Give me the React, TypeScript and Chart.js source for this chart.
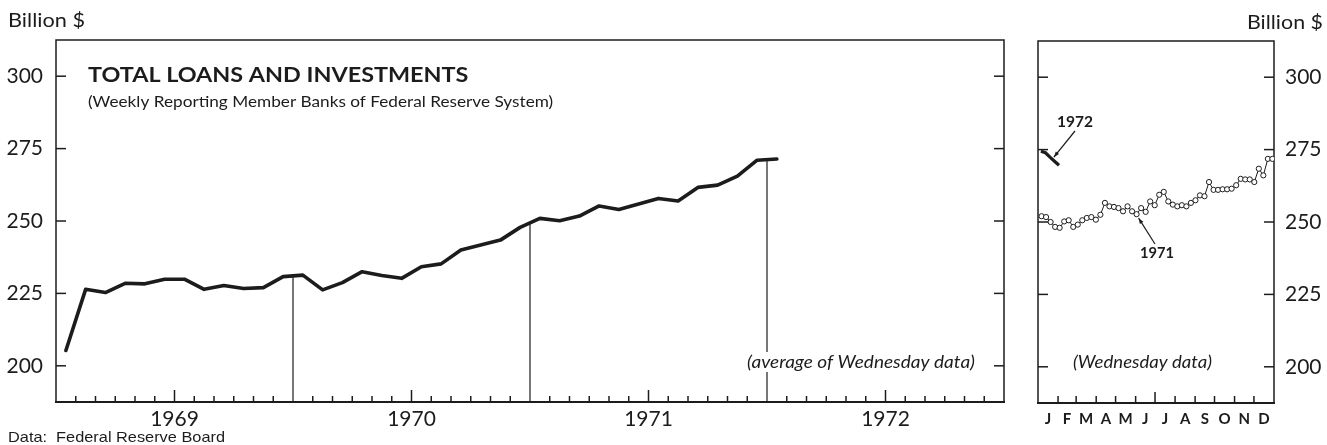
import React, { useEffect, useRef } from "react";
import { Chart, registerables } from "chart.js";

Chart.register(...registerables);

// ---------------- data ----------------
const YEAR_LABELS = ["1969", "1970", "1971", "1972"];
const MONTH_LABELS = ["J", "F", "M", "A", "M", "J", "J", "A", "S", "O", "N", "D"];
const Y_TICKS = [200, 225, 250, 275, 300];
const MONTH_STARTS = [0, 31, 59, 90, 120, 151, 181, 212, 243, 273, 304, 334, 365];

// Monthly averages, Jan 1969 .. Jan 1972 (billion $)
const MONTHLY_TOTALS = [
  205.3, 226.4, 225.3, 228.5, 228.3, 229.9, 229.9, 226.4, 227.7, 226.7, 227.0, 230.8,
  231.3, 226.2, 228.7, 232.5, 231.2, 230.2, 234.2, 235.2, 240.0, 241.7, 243.4, 247.8,
  250.9, 250.1, 251.7, 255.2, 254.0, 255.9, 257.8, 256.9, 261.6, 262.4, 265.5, 271.0,
  271.4,
];

// Wednesday data 1971 (52 weeks, first Wednesday Jan 6)
const WEEKLY_1971 = [
  252.0, 251.7, 250.0, 248.3, 248.0, 250.2, 250.6, 248.3, 249.1, 250.6, 251.4, 251.7,
  250.8, 252.5, 256.6, 255.4, 255.2, 254.8, 253.7, 255.4, 253.7, 252.7, 254.8, 253.5,
  257.1, 255.8, 259.4, 260.4, 257.1, 256.0, 255.4, 255.8, 255.4, 256.6, 257.5, 259.2,
  258.9, 263.8, 261.1, 261.1, 261.3, 261.3, 261.5, 262.7, 264.9, 264.7, 264.7, 263.8,
  268.4, 266.1, 271.8, 271.8,
];
// Wednesday data 1972 (first Wednesday Jan 5)
const WEEKLY_1972 = [274.4, 273.9, 272.4, 271.0, 269.6];

const FIRST_WED_1971 = 5; // day index (0-based) of Jan 6
const FIRST_WED_1972 = 4; // day index of Jan 5

const FONT = "Lato, 'Open Sans', 'DejaVu Sans', sans-serif";
const NARROW = "'Liberation Sans Narrow', 'Liberation Sans', sans-serif";
const INK = "#1c1c1c";

function seg(ctx: CanvasRenderingContext2D, x1: number, y1: number, x2: number, y2: number) {
  ctx.beginPath();
  ctx.moveTo(x1, y1);
  ctx.lineTo(x2, y2);
  ctx.stroke();
}

function arrow(ctx: CanvasRenderingContext2D, x1: number, y1: number, x2: number, y2: number) {
  seg(ctx, x1, y1, x2, y2);
  const ang = Math.atan2(y2 - y1, x2 - x1);
  const L = 6;
  ctx.beginPath();
  ctx.moveTo(x2, y2);
  ctx.lineTo(x2 - L * Math.cos(ang - 0.35), y2 - L * Math.sin(ang - 0.35));
  ctx.lineTo(x2 - L * Math.cos(ang + 0.35), y2 - L * Math.sin(ang + 0.35));
  ctx.closePath();
  ctx.fill();
}

// Draw text with a horizontal scale so that `ref` (default: whole text) spans `width`
function fitText(
  ctx: CanvasRenderingContext2D,
  text: string,
  x: number,
  y: number,
  align: CanvasTextAlign,
  font: string,
  width: number,
  opts: { bg?: boolean; ref?: string } = {}
) {
  ctx.save();
  ctx.font = font;
  ctx.textBaseline = "middle";
  const refW = ctx.measureText(opts.ref || text).width;
  const sx = width / refW;
  const full = ctx.measureText(text).width * sx;
  let left = x;
  if (align === "center") left = x - full / 2;
  if (align === "right") left = x - full;
  if (opts.bg) {
    ctx.fillStyle = "#ffffff";
    ctx.fillRect(left - 3, y - 10, full + 6, 20);
  }
  ctx.fillStyle = INK;
  ctx.translate(left, y);
  ctx.scale(sx, 1);
  ctx.textAlign = "left";
  ctx.fillText(text, 0, 0);
  ctx.restore();
}

function drawFrame(ctx: CanvasRenderingContext2D, a: any) {
  ctx.strokeStyle = INK;
  ctx.lineWidth = 1.5;
  ctx.beginPath();
  ctx.moveTo(a.left, a.bottom);
  ctx.lineTo(a.left, a.top);
  ctx.lineTo(a.right, a.top);
  ctx.lineTo(a.right, a.bottom);
  ctx.stroke();
  ctx.lineWidth = 2;
  seg(ctx, a.left - 1, a.bottom, a.right + 1, a.bottom);
}

const leftDecor = {
  id: "leftDecor",
  beforeDatasetsDraw(chart: any) {
    const { ctx, chartArea: a, scales } = chart;
    const x = scales.x;
    const y = scales.y;
    ctx.save();
    drawFrame(ctx, a);
    ctx.lineWidth = 1.5;
    for (const t of Y_TICKS) {
      const py = y.getPixelForValue(t);
      seg(ctx, a.left, py, a.left + 10, py);
      seg(ctx, a.right - 10, py, a.right, py);
    }
    for (let m = 1; m < 48; m++) {
      const px = x.getPixelForValue(m);
      if (m % 12 === 0) {
        if (m < MONTHLY_TOTALS.length) {
          const v = (MONTHLY_TOTALS[m - 1] + MONTHLY_TOTALS[m]) / 2;
          ctx.lineWidth = 1.2;
          seg(ctx, px, a.bottom, px, y.getPixelForValue(v));
        }
      } else {
        ctx.lineWidth = 1.5;
        const len = m % 12 === 6 ? 12 : 6;
        seg(ctx, px, a.bottom, px, a.bottom - len);
      }
    }
    ctx.restore();
  },
  afterDraw(chart: any) {
    const { ctx } = chart;
    fitText(ctx, "Billion $", 8, 21, "left", `20px ${FONT}`, 77);
    fitText(ctx, "TOTAL LOANS AND INVESTMENTS", 88, 75, "left", `bold 21px ${FONT}`, 300, {
      ref: "TOTAL LOANS AND INVEST",
    });
    fitText(
      ctx,
      "(Weekly Reporting Member Banks of Federal Reserve System)",
      88,
      102,
      "left",
      `16px ${FONT}`,
      310,
      { ref: "(Weekly Reporting Member Banks of Fed" }
    );
    fitText(ctx, "(average of Wednesday data)", 975, 362, "right", `italic 18px ${FONT}`, 228, {
      bg: true,
    });
    fitText(ctx, "Data:  Federal Reserve Board", 8, 438, "left", `15px ${NARROW}`, 217);
  },
};

const rightDecor = {
  id: "rightDecor",
  beforeDatasetsDraw(chart: any) {
    const { ctx, chartArea: a, scales } = chart;
    const x = scales.x;
    const y = scales.y;
    ctx.save();
    drawFrame(ctx, a);
    ctx.lineWidth = 1.5;
    for (const t of Y_TICKS) {
      const py = y.getPixelForValue(t);
      seg(ctx, a.left, py, a.left + 10, py);
      seg(ctx, a.right - 10, py, a.right, py);
    }
    for (let m = 1; m < 12; m++) {
      const px = x.getPixelForValue(MONTH_STARTS[m]);
      const len = m === 6 ? 11 : 7;
      seg(ctx, px, a.bottom, px, a.bottom - len);
    }
    ctx.restore();
  },
  afterDraw(chart: any) {
    const { ctx, scales } = chart;
    const x = scales.x;
    const y = scales.y;
    fitText(ctx, "Billion $", 303, 23, "right", `20px ${FONT}`, 76);
    fitText(ctx, "(Wednesday data)", 122.5, 362, "center", `italic 18px ${FONT}`, 139);
    fitText(ctx, "1972", 55, 122, "center", `bold 15px ${FONT}`, 36);
    fitText(ctx, "1971", 137, 253, "center", `bold 15px ${FONT}`, 34);

    ctx.save();
    ctx.fillStyle = INK;
    ctx.strokeStyle = INK;
    ctx.lineWidth = 1.2;
    // 1972 leader
    const tx72 = x.getPixelForValue(FIRST_WED_1972 + 0.5 + 7 * 2.2);
    const ty72 = y.getPixelForValue((WEEKLY_1972[2] + WEEKLY_1972[3]) / 2);
    arrow(ctx, 55, 131, tx72 + 3, ty72 - 2);
    // 1971 leader
    const tx71 = x.getPixelForValue(FIRST_WED_1971 + 0.5 + 7 * 21);
    const ty71 = y.getPixelForValue(WEEKLY_1971[21]);
    arrow(ctx, 135, 244, tx71 + 2, ty71 + 4);
    ctx.restore();
  },
};

export default function App() {
  const leftRef = useRef<HTMLCanvasElement | null>(null);
  const rightRef = useRef<HTMLCanvasElement | null>(null);

  useEffect(() => {
    const leftCanvas = leftRef.current!;
    const rightCanvas = rightRef.current!;

    const tickFont = { family: FONT, size: 21 };

    const left = new Chart(leftCanvas, {
      type: "line",
      data: {
        datasets: [
          {
            data: MONTHLY_TOTALS.map((v, i) => ({ x: i + 0.5, y: v })),
            borderColor: INK,
            borderWidth: 3.6,
            pointRadius: 0,
            tension: 0,
            borderJoinStyle: "round",
            borderCapStyle: "round",
          },
        ],
      },
      options: {
        animation: false,
        responsive: false,
        devicePixelRatio: 1,
        layout: { padding: { left: 0, top: 40, right: 16, bottom: 0 } },
        plugins: { legend: { display: false }, tooltip: { enabled: false } },
        scales: {
          x: {
            type: "linear",
            min: 0,
            max: 48,
            grid: { display: false, drawTicks: false },
            border: { display: false },
            afterBuildTicks: (s: any) => {
              s.ticks = YEAR_LABELS.map((_, i) => ({ value: i * 12 + 6 }));
            },
            ticks: {
              autoSkip: false,
              maxRotation: 0,
              padding: 5,
              color: INK,
              font: tickFont,
              callback: (v: any) => YEAR_LABELS[Math.round((Number(v) - 6) / 12)],
            },
            afterFit: (s: any) => {
              s.height = 43;
            },
          },
          y: {
            type: "linear",
            min: 187.5,
            max: 312.5,
            grid: { display: false, drawTicks: false },
            border: { display: false },
            afterBuildTicks: (s: any) => {
              s.ticks = Y_TICKS.map((v) => ({ value: v }));
            },
            ticks: {
              padding: 13,
              color: INK,
              font: tickFont,
              callback: (v: any) => String(v),
            },
            afterFit: (s: any) => {
              s.width = 56;
            },
          },
        },
      } as any,
      plugins: [leftDecor],
    });

    const right = new Chart(rightCanvas, {
      type: "line",
      data: {
        datasets: [
          {
            data: WEEKLY_1971.map((v, i) => ({ x: FIRST_WED_1971 + 0.5 + 7 * i, y: v })),
            borderColor: INK,
            borderWidth: 1,
            pointRadius: 2.6,
            pointBorderWidth: 1,
            pointBorderColor: INK,
            pointBackgroundColor: "#ffffff",
            tension: 0,
          },
          {
            data: WEEKLY_1972.map((v, i) => ({ x: FIRST_WED_1972 + 0.5 + 7 * i, y: v })),
            borderColor: INK,
            borderWidth: 3.2,
            pointRadius: 0,
            tension: 0,
          },
        ],
      },
      options: {
        animation: false,
        responsive: false,
        devicePixelRatio: 1,
        layout: { padding: { left: 18, top: 41, right: 0, bottom: 0 } },
        plugins: { legend: { display: false }, tooltip: { enabled: false } },
        scales: {
          x: {
            type: "linear",
            min: 0,
            max: 365,
            grid: { display: false, drawTicks: false },
            border: { display: false },
            afterBuildTicks: (s: any) => {
              s.ticks = MONTH_LABELS.map((_, i) => ({
                value: (MONTH_STARTS[i] + MONTH_STARTS[i + 1]) / 2,
              }));
            },
            ticks: {
              autoSkip: false,
              maxRotation: 0,
              padding: 7,
              color: INK,
              font: { family: FONT, size: 15, weight: "bold" },
              callback: (_v: any, i: number) => MONTH_LABELS[i],
            },
            afterFit: (s: any) => {
              s.height = 42;
            },
          },
          y: {
            type: "linear",
            position: "right",
            min: 187.5,
            max: 312.5,
            grid: { display: false, drawTicks: false },
            border: { display: false },
            afterBuildTicks: (s: any) => {
              s.ticks = Y_TICKS.map((v) => ({ value: v }));
            },
            ticks: {
              padding: 11,
              color: INK,
              font: tickFont,
              callback: (v: any) => String(v),
            },
            afterFit: (s: any) => {
              s.width = 53;
            },
          },
        },
      } as any,
      plugins: [rightDecor],
    });

    return () => {
      left.destroy();
      right.destroy();
    };
  }, []);

  return (
    <div
      style={{
        position: "absolute",
        left: 0,
        top: 0,
        width: 1327,
        height: 445,
        background: "#ffffff",
        overflow: "hidden",
      }}
    >
      <canvas
        ref={leftRef}
        width={1020}
        height={445}
        style={{ position: "absolute", left: 0, top: 0, width: 1020, height: 445 }}
      />
      <canvas
        ref={rightRef}
        width={307}
        height={445}
        style={{ position: "absolute", left: 1020, top: 0, width: 307, height: 445 }}
      />
    </div>
  );
}
